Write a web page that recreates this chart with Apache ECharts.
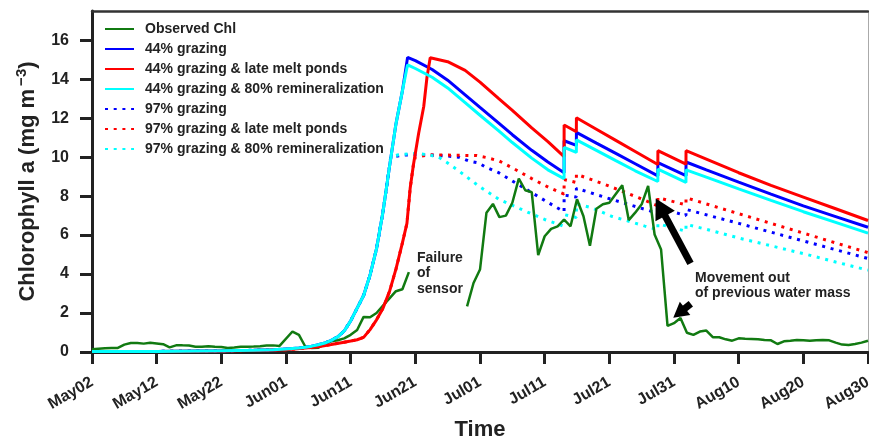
<!DOCTYPE html>
<html>
<head>
<meta charset="utf-8">
<script src="https://cdn.jsdelivr.net/npm/echarts@6/dist/echarts.min.js"></script>
<style>
  html, body { margin: 0; padding: 0; background: #fff; }
  #chart { width: 869px; height: 440px; }
</style>
</head>
<body>
<div id="chart"></div>
<script>
// x = days since May02
const tickLabels = ["May02", "May12", "May22", "Jun01", "Jun11", "Jun21", "Jul01",
  "Jul11", "Jul21", "Jul31", "Aug10", "Aug20", "Aug30"];
const yTicks = [0, 2, 4, 6, 8, 10, 12, 14, 16];

const seriesNames = [
  "Observed Chl",
  "44% grazing",
  "44% grazing & late melt ponds",
  "44% grazing & 80% remineralization",
  "97% grazing",
  "97% grazing & late melt ponds",
  "97% grazing & 80% remineralization"
];

// observed sensor data (gap = sensor failure)
const observedChl = [
  [0, 0.14], [1, 0.17], [2, 0.19], [3, 0.2], [4, 0.21], [5, 0.38], [6, 0.46], [7, 0.46],
  [8, 0.43], [9, 0.48], [10, 0.44], [11, 0.4], [12, 0.24], [13, 0.34], [14, 0.34], [15, 0.33],
  [16, 0.27], [17, 0.27], [18, 0.3], [19, 0.27], [20, 0.26], [21, 0.21], [22, 0.23], [23, 0.27],
  [24, 0.27], [25, 0.28], [26, 0.3], [27, 0.33], [28, 0.34], [29, 0.31], [31, 1.05], [32, 0.88],
  [33, 0.27], [34, 0.2], [35, 0.22], [36, 0.42], [37, 0.55], [38, 0.6], [39, 0.7], [40, 0.88],
  [41, 1.13], [42, 1.8], [43, 1.78], [44, 2.0], [45, 2.38], [46, 2.75], [47, 3.12], [48, 3.22],
  [49, 4.1], [53, "-"],
  [58, 2.34], [59, 3.54], [60, 4.23], [61, 7.15], [62, 7.6], [63, 6.92], [64, 7.0], [65, 7.66],
  [66, 8.9], [67, 8.3], [68, 8.2], [69, 4.97], [70, 5.94], [71, 6.32], [72, 6.45], [73, 6.8],
  [74, 6.45], [75, 7.84], [76, 6.97], [77, 5.45], [78, 7.35], [79, 7.58], [80, 7.66], [82, 8.56],
  [83, 6.77], [84, 7.15], [85, 7.58], [86, 8.52], [87, 6.03], [88, 5.26], [89, 1.34], [90, 1.48],
  [91, 1.74], [92, 0.99], [93, 0.88], [94, 1.05], [95, 1.1], [96, 0.76], [97, 0.76], [98, 0.65],
  [99, 0.58], [100, 0.7], [101, 0.68], [102, 0.67], [103, 0.65], [104, 0.62], [105, 0.6], [106, 0.41],
  [107, 0.55], [108, 0.58], [109, 0.62], [110, 0.6], [111, 0.58], [112, 0.6], [113, 0.62], [114, 0.6],
  [115, 0.48], [116, 0.38], [117, 0.36], [118, 0.41], [119, 0.48], [120, 0.58]
];

// shared bloom onset of the model runs
const riseEarly = [
  [0, 0.02], [10, 0.03], [20, 0.06], [25, 0.09], [28, 0.12], [30, 0.15], [32, 0.2], [33, 0.24],
  [34, 0.3], [35, 0.37], [36, 0.46], [37, 0.6], [38, 0.78], [39, 1.08], [40, 1.6], [41, 2.25],
  [42, 2.9], [43, 3.95], [44, 5.3], [45, 7.2], [46, 9.5]
];
const riseLate = [
  [0, 0.02], [10, 0.03], [20, 0.05], [30, 0.12], [33, 0.2], [35, 0.27], [37, 0.38], [39, 0.5],
  [40, 0.56], [41, 0.63], [42, 0.75], [43, 1.15], [44, 1.65], [45, 2.25], [46, 3.1], [47, 4.25],
  [48, 5.6], [48.7, 6.6], [49.2, 8.4], [49.7, 9.6]
];

const graz44 = riseEarly.concat([
  [47, 11.7], [48, 13.4], [48.8, 15.12], [50, 14.95], [52.6, 14.5], [55, 13.95], [57.7, 13.2],
  [60, 12.55], [62.9, 11.75], [65, 11.15], [68, 10.35], [70.5, 9.75], [73, 9.2], [73.01, 10.84],
  [74.9, 10.6], [74.91, 11.27], [78, 10.72], [81, 10.19], [84, 9.66], [87.5, 9.04], [87.51, 9.72],
  [91.85, 9.05], [91.86, 9.75], [95, 9.35], [100, 8.72], [105, 8.1], [110, 7.5], [115, 6.95], [120, 6.4]
]);
const graz44Late = riseLate.concat([
  [50.5, 11.2], [51.3, 12.6], [51.8, 14.1], [52.3, 15.1], [52.6, 15.17], [55, 14.9], [57.7, 14.45],
  [60, 13.85], [62.9, 13.0], [65, 12.4], [68, 11.5], [70.5, 10.8], [73, 10.03], [73.01, 11.65],
  [74.9, 11.3], [74.91, 12.02], [78, 11.43], [81, 10.86], [84, 10.29], [87.5, 9.62], [87.51, 10.33],
  [91.85, 9.64], [91.86, 10.33], [95, 9.9], [100, 9.2], [105, 8.55], [110, 7.95], [115, 7.35], [120, 6.75]
]);
const graz44Remin = riseEarly.concat([
  [47, 11.7], [48, 13.4], [48.8, 14.74], [50, 14.55], [52.6, 14.1], [55, 13.55], [57.7, 12.8],
  [60, 12.15], [62.9, 11.35], [65, 10.75], [68, 9.95], [70.5, 9.35], [73, 8.9], [73.01, 10.5],
  [74.9, 10.24], [74.91, 10.89], [78, 10.35], [81, 9.82], [84, 9.3], [87.5, 8.75], [87.51, 9.38],
  [91.85, 8.7], [91.86, 9.35], [95, 8.97], [100, 8.37], [105, 7.78], [110, 7.2], [115, 6.65], [120, 6.1]
]);
const graz97 = riseEarly.concat([
  [46.2, 10.0], [48, 10.1], [50, 10.12], [52, 10.12], [54.6, 10.07], [56.7, 10.0], [58.2, 9.81],
  [59.8, 9.7], [60.8, 9.5], [62.9, 9.2], [65.4, 8.7], [68, 8.18], [70.6, 7.66], [73, 7.2], [73.01, 8.05],
  [74.9, 7.95], [74.91, 8.4], [77.8, 8.1], [80.3, 7.84], [82.9, 7.58], [85.5, 7.32], [87.5, 7.12],
  [87.51, 7.42], [91.85, 7.0], [91.86, 7.32], [95, 7.04], [100, 6.6], [105, 6.15], [110, 5.7],
  [115, 5.25], [120, 4.8]
]);
const graz97Late = riseLate.concat([
  [50, 10.0], [52, 10.12], [56, 10.1], [59.5, 10.08], [61, 9.98], [63, 9.8], [65, 9.45], [68, 8.9],
  [70.6, 8.45], [73, 8.1], [73.01, 8.85], [74.9, 8.7], [74.91, 9.12], [79.3, 8.6], [82, 8.25],
  [84.5, 7.92], [87.5, 7.5], [87.51, 7.92], [91.85, 7.55], [91.86, 7.92], [95, 7.6], [100, 7.1],
  [105, 6.6], [110, 6.1], [115, 5.6], [120, 5.1]
]);
const graz97Remin = riseEarly.concat([
  [46.2, 10.0], [47.4, 10.12], [50, 10.2], [52, 10.12], [53.6, 10.0], [55, 9.7], [56.7, 9.3],
  [59.8, 8.52], [62.9, 7.84], [67, 7.23], [70, 6.8], [73, 6.45], [73.01, 7.05], [74.9, 6.9],
  [74.91, 7.6], [77.3, 7.4], [80.3, 6.97], [82.9, 6.72], [85.5, 6.46], [87.5, 6.28], [87.51, 6.58],
  [91.85, 6.2], [91.86, 6.55], [95, 6.3], [100, 5.85], [105, 5.45], [110, 5.05], [115, 4.62], [120, 4.2]
]);

// arrows: [tail, head] in data coords
const arrowBig = [[92.55, 4.55], [87.9, 7.43]];
const arrowSmall = [[92.6, 2.47], [90.8, 2.0]];

const FONT = '"Liberation Sans", Arial, Helvetica, sans-serif';
const INK = "#222";

function modelLine(name, data, color, dotted) {
  return {
    name: name,
    type: "line",
    data: data,
    symbol: "none",
    animation: false,
    // dotted runs sit under the solid ones
    z: dotted ? 1 : 2,
    lineStyle: {
      color: color,
      width: 3,
      type: dotted ? [3, 5.7] : "solid",
      cap: "butt"
    },
    itemStyle: { color: color }
  };
}

const chart = echarts.init(document.getElementById("chart"));

const option = {
  backgroundColor: "#fff",
  animation: false,
  textStyle: { fontFamily: FONT },
  grid: { left: 92, right: 1, top: 11, bottom: 88, outerBoundsMode: "none", containLabel: false },
  legend: {
    data: seriesNames,
    orient: "vertical",
    left: 104,
    top: 22,
    padding: 0,
    itemWidth: 29,
    itemHeight: 14,
    itemGap: 6,
    itemStyle: { opacity: 0 },
    textStyle: { fontFamily: FONT, fontWeight: "bold", fontSize: 14, color: INK, padding: [0, 0, 0, 6] }
  },
  xAxis: [
    {
      type: "value",
      min: 0,
      max: 120,
      interval: 10,
      name: "Time",
      nameLocation: "middle",
      nameGap: 67,
      nameTextStyle: { fontFamily: FONT, fontWeight: "bold", fontSize: 22, color: INK },
      axisLine: { onZero: false, lineStyle: { color: INK, width: 3 } },
      axisTick: { length: 12, lineStyle: { color: INK, width: 3 } },
      axisLabel: {
        rotate: 30,
        margin: 29,
        fontFamily: FONT,
        fontWeight: "bold",
        fontSize: 16,
        color: INK,
        formatter: (v) => tickLabels[Math.round(v / 10)]
      },
      splitLine: { show: false }
    },
    {
      type: "value",
      position: "top",
      min: 0,
      max: 120,
      axisLine: { onZero: false, lineStyle: { color: "#333", width: 2.5 } },
      axisTick: { show: false },
      axisLabel: { show: false },
      splitLine: { show: false }
    }
  ],
  yAxis: [
    {
      type: "value",
      min: 0,
      max: 17.5,
      name: "Chlorophyll a (mg m{sup|\u22123})",
      nameLocation: "middle",
      nameGap: 50,
      nameTextStyle: {
        fontFamily: FONT, fontWeight: "bold", fontSize: 22, color: INK,
        rich: { sup: { fontFamily: FONT, fontWeight: "bold", fontSize: 15, color: INK, padding: [0, 0, 13, 3] } }
      },
      axisLine: { onZero: false, lineStyle: { color: INK, width: 3 } },
      axisTick: { length: 12, customValues: yTicks, lineStyle: { color: INK, width: 3 } },
      axisLabel: { margin: 23, customValues: yTicks, fontFamily: FONT, fontWeight: "bold", fontSize: 16, color: INK },
      splitLine: { show: false }
    },
    {
      type: "value",
      position: "right",
      min: 0,
      max: 17.5,
      axisLine: { show: true, onZero: false, lineStyle: { color: "#aaa", width: 1 } },
      axisTick: { show: false },
      axisLabel: { show: false },
      splitLine: { show: false }
    }
  ],
  series: [
    Object.assign(modelLine(seriesNames[0], observedChl, "#117a11", false), {
      lineStyle: { color: "#117a11", width: 2.5 },
      markLine: {
        silent: true,
        animation: false,
        symbol: ["none", "triangle"],
        label: { show: false },
        lineStyle: { color: "#000", width: 7, type: "solid" },
        data: [
          [{ coord: arrowBig[0], symbolSize: 0 }, { coord: arrowBig[1], symbolSize: [22, 20] }],
          [{ coord: arrowSmall[0], symbolSize: 0 }, { coord: arrowSmall[1], symbolSize: [17, 15] }]
        ]
      }
    }),
    modelLine(seriesNames[1], graz44, "#0000ff", false),
    modelLine(seriesNames[2], graz44Late, "#ff0000", false),
    modelLine(seriesNames[3], graz44Remin, "#00ffff", false),
    modelLine(seriesNames[4], graz97, "#0000ff", true),
    modelLine(seriesNames[5], graz97Late, "#ff0000", true),
    modelLine(seriesNames[6], graz97Remin, "#00ffff", true)
  ],
  graphic: [
    {
      type: "text",
      left: 417,
      top: 250,
      style: { text: "Failure\nof\nsensor", font: "bold 14px " + FONT, lineHeight: 15.7, fill: INK }
    },
    {
      type: "text",
      left: 695,
      top: 270,
      style: { text: "Movement out\nof previous water mass", font: "bold 14px " + FONT, lineHeight: 15.7, fill: INK }
    }
  ]
};

chart.setOption(option);
</script>
</body>
</html>
